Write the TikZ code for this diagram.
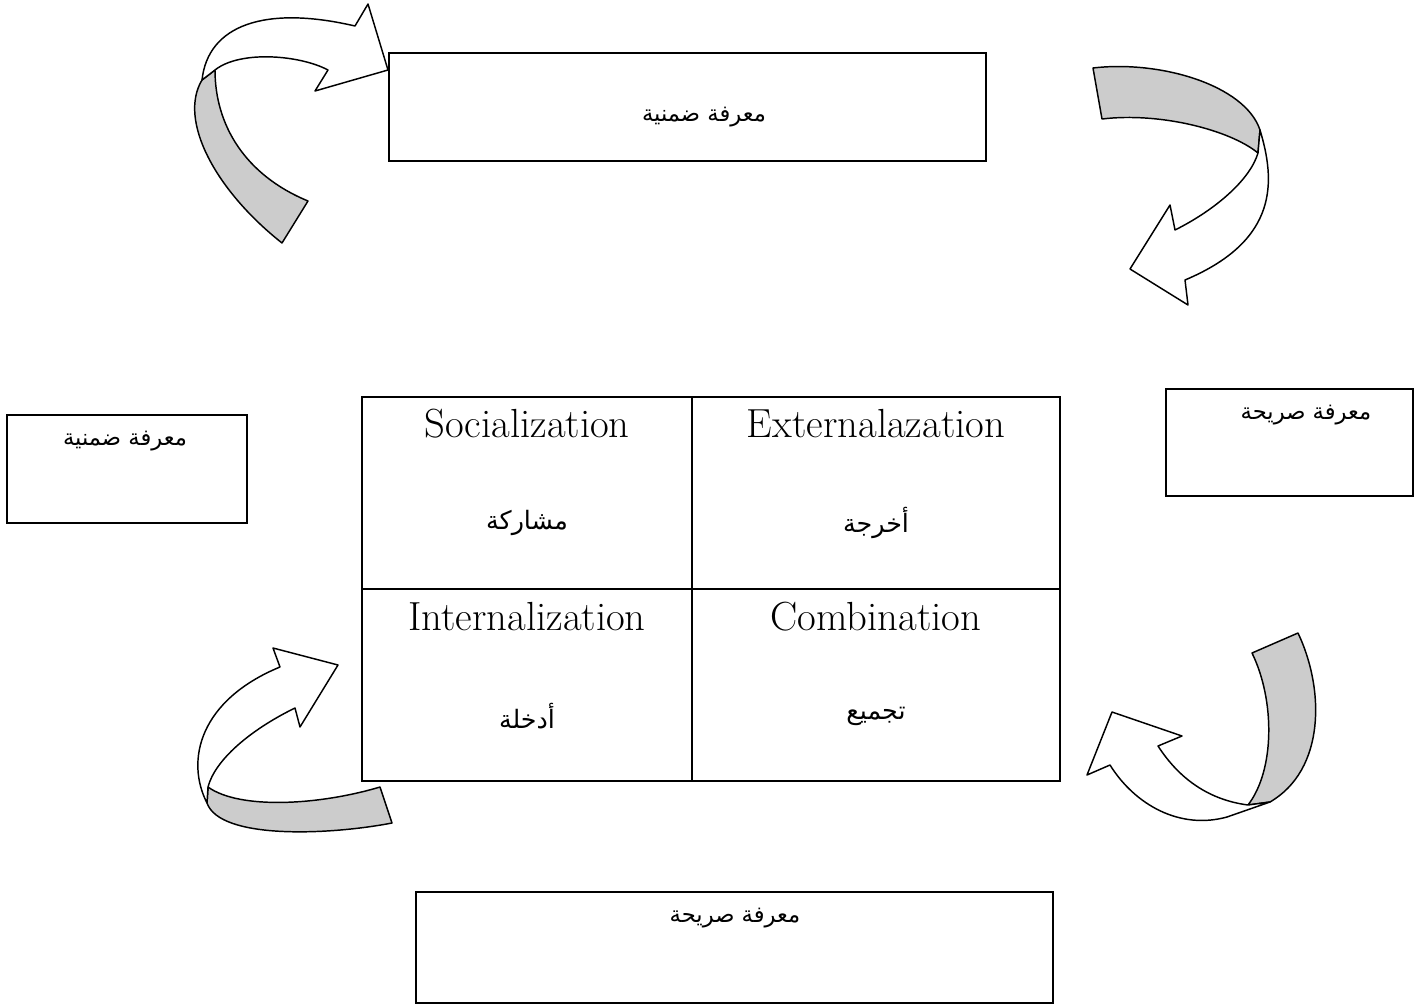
\documentclass[tikz,border=0pt]{standalone}
\usepackage{fontspec}
\TeXXeTstate=1
\newfontfamily\arabicfont[Script=Arabic]{DejaVu Sans}
\newcommand{\ar}[1]{{\arabicfont\beginR #1\endR}}
\begin{document}
\begin{tikzpicture}[x=0.75pt,y=-0.75pt,
  frame/.style={draw=black,line width=1pt},
  lbl/.style={font=\fontsize{17}{19}\selectfont},
  cellen/.style={font=\fontsize{30.5}{32}\selectfont},
  cellar/.style={font=\fontsize{19}{22}\selectfont},
  ribbonback/.style={draw=black,line width=1.1pt,fill=black!20,line join=round},
  ribbonfront/.style={draw=black,line width=1.1pt,fill=white,line join=round}]
\useasboundingbox (0,0) rectangle (1422,1007);

% outer labelled boxes
\draw[frame] (389,53) rectangle (986,161);
\node[lbl] (tacitTop) at (704,117) {\ar{معرفة ضمنية}};
\draw[frame] (7,415) rectangle (247,523);
\node[lbl] (tacitLeft) at (125,441) {\ar{معرفة ضمنية}};
\draw[frame] (1166,389) rectangle (1413,496);
\node[lbl] (explicitRight) at (1306,415) {\ar{معرفة صريحة}};
\draw[frame] (416,892) rectangle (1053,1003);
\node[lbl] (explicitBottom) at (735,918) {\ar{معرفة صريحة}};

% SECI grid
\draw[frame] (362,397) rectangle (1060,781);
\draw[frame] (692,397) -- (692,781);
\draw[frame] (362,589) -- (1060,589);
\node[cellen] (soc) at (527,424) {Socialization};
\node[cellar] (socA) at (527,523) {\ar{مشاركة}};
\node[cellen] (ext) at (876,424) {Externalazation};
\node[cellar] (extA) at (876,523) {\ar{أخرجة}};
\node[cellen] (int) at (527,617) {Internalization};
\node[cellar] (intA) at (527,716) {\ar{أدخلة}};
\node[cellen] (com) at (876,617) {Combination};
\node[cellar] (comA) at (876,716) {\ar{تجميع}};

% top-left twisted arrow
\draw[ribbonback] (202,80) .. controls (178,120) and (215,190) .. (282,243)
  -- (308,201) .. controls (245,175) and (215,125) .. (215,70) -- cycle;
\draw[ribbonfront] (202,80) .. controls (208,25) and (265,5) .. (355,26)
  -- (368,4) -- (388,70) -- (315,91) -- (328,70)
  .. controls (300,55) and (240,50) .. (215,70) -- cycle;

% top-right twisted arrow
\draw[ribbonback] (1093,68) .. controls (1160,60) and (1245,85) .. (1260,130)
  -- (1258,153) .. controls (1230,130) and (1160,112) .. (1102,119) -- cycle;
\draw[ribbonfront] (1260,130) .. controls (1275,180) and (1280,240) .. (1185,280)
  -- (1188,305) -- (1130,269) -- (1170,205) -- (1175,230)
  .. controls (1215,210) and (1250,180) .. (1258,153) -- cycle;

% bottom-left twisted arrow
\draw[ribbonback] (208,787) .. controls (240,810) and (320,805) .. (380,787)
  -- (392,823) .. controls (330,835) and (220,840) .. (207,803) -- cycle;
\draw[ribbonfront] (207,803) .. controls (185,760) and (200,700) .. (280,667)
  -- (273,648) -- (338,665) -- (300,727) -- (295,708)
  .. controls (250,730) and (215,760) .. (208,787) -- cycle;

% bottom-right twisted arrow
\draw[ribbonback] (1252,653) -- (1298,633) .. controls (1325,690) and (1325,770) .. (1270,802)
  -- (1248,805) .. controls (1275,770) and (1275,700) .. (1252,653) -- cycle;
\draw[ribbonfront] (1248,805) .. controls (1210,800) and (1180,780) .. (1158,746)
  -- (1182,736) -- (1112,712) -- (1087,775) -- (1110,765)
  .. controls (1135,805) and (1180,830) .. (1227,817) -- (1270,802) -- cycle;
\end{tikzpicture}
\end{document}
